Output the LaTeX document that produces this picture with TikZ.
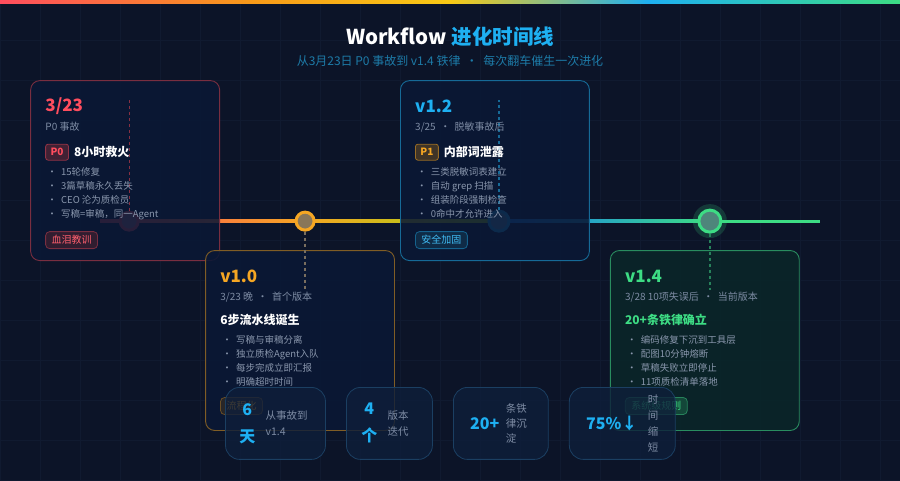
\documentclass[tikz,border=0pt]{standalone}
\usepackage{fontspec}
\setmainfont{Noto Sans CJK SC}
\usepackage{xcolor}
\usetikzlibrary{positioning, calc, shapes.geometric}

\definecolor{bgnavy}{HTML}{0C1428}
\definecolor{gridline}{HTML}{101A30}
\definecolor{cardfill}{HTML}{0A1835}
\definecolor{greenfill}{HTML}{0A2629}
\definecolor{hotred}{HTML}{FF4D5E}
\definecolor{amber}{HTML}{F5A623}
\definecolor{skyblue}{HTML}{1EB0F2}
\definecolor{mint}{HTML}{3DDC84}
\definecolor{mutedgray}{HTML}{7D8BA3}
\definecolor{bulletgray}{HTML}{8A97AD}
\definecolor{subcyan}{HTML}{1D7BA8}
\definecolor{statfill}{HTML}{0E1E3A}
\definecolor{statedge}{HTML}{1B3F62}

\pgfdeclarehorizontalshading{rainbowbar}{100bp}{color(0bp)=(hotred); color(25bp)=(hotred); color(39bp)=(amber!70!orange); color(50bp)=(amber!60!yellow); color(61bp)=(skyblue); color(75bp)=(mint); color(100bp)=(mint)}

\begin{document}
\begin{tikzpicture}[
  x=1pt, y=-1pt,
  card/.style={draw, line width=0.9pt, rounded corners=9pt, minimum width=189pt, minimum height=180pt, anchor=north west, inner sep=0pt, fill opacity=0.88},
  tdot/.style={circle, line width=3pt, minimum size=18pt, inner sep=0pt},
  hd/.style={anchor=west, inner sep=0pt, font=\fontsize{17}{20}\selectfont\bfseries},
  sub/.style={anchor=west, inner sep=0pt, text=mutedgray, font=\fontsize{10}{12}\selectfont},
  ttl/.style={anchor=west, inner sep=0pt, text=white, font=\fontsize{12}{14}\selectfont\bfseries},
  badge/.style={draw, line width=0.8pt, rounded corners=2.5pt, anchor=west, inner xsep=5pt, inner ysep=0pt, minimum height=16pt, font=\fontsize{10}{12}\selectfont\bfseries},
  items/.style={anchor=north west, inner sep=0pt, align=left, text=bulletgray, font=\fontsize{9.5}{14}\selectfont},
  tag/.style={draw, line width=0.8pt, rounded corners=4pt, anchor=west, inner xsep=6pt, inner ysep=0pt, minimum height=17pt, font=\fontsize{10}{12}\selectfont},
  tether/.style={dash pattern=on 3pt off 3pt, line width=1.3pt},
  stat/.style={draw=statedge, line width=0.8pt, fill=statfill, fill opacity=0.8, rounded corners=14pt, minimum height=72pt, anchor=north west},
  num/.style={anchor=west, inner sep=0pt, align=center, text=skyblue, font=\fontsize{16}{27}\selectfont\bfseries},
  note/.style={anchor=west, inner sep=0pt, align=left, text=mutedgray, font=\fontsize{10.5}{16}\selectfont}
]
  % background
  \fill[bgnavy] (0,0) rectangle (900,480);
  \draw[gridline, line width=0.5pt] (0,0) grid[step=40pt] (900,480);
  \useasboundingbox (0,0) rectangle (900,480);
  \shade[shading=rainbowbar] (0,0) rectangle (900,3);

  % title
  \node[font=\fontsize{20.5}{24}\selectfont\bfseries, text=white] (title) at (450,36) {Workflow \textcolor{skyblue}{进化时间线}};
  \node[font=\fontsize{12}{14}\selectfont, text=subcyan] (subtitle) at (450,61) {从3月23日 P0 事故到 v1.4 铁律 \ · \ 每次翻车催生一次进化};

  % timeline
  \coordinate (tlstart) at (100,221);
  \coordinate (p323) at (129,221);
  \coordinate (p10) at (305,221);
  \coordinate (p12) at (499,221);
  \coordinate (p14) at (710,221);
  \coordinate (tlend) at (820,221);
  \shade[left color=hotred, right color=amber] ($(tlstart)+(0,-1.5)$) rectangle ($(p10)+(0,1.5)$);
  \shade[left color=amber, right color=amber!55!green!80!yellow] ($(p10)+(0,-1.5)$) rectangle ($(p12)+(0,1.5)$);
  \shade[left color=skyblue!70!blue, middle color=skyblue, right color=mint] ($(p12)+(0,-1.5)$) rectangle ($(p14)+(0,1.5)$);
  \fill[mint] ($(p14)+(0,-1.5)$) rectangle ($(tlend)+(0,1.5)$);

  \node[tdot, draw=hotred, fill=hotred!40!mutedgray] (d323) at (p323) {};
  \node[tdot, draw=amber, fill=amber!45!mutedgray!75!bgnavy] (d10) at (p10) {};
  \node[tdot, draw=skyblue, fill=skyblue!35!mutedgray, minimum size=20pt] (d12) at (p12) {};
  \fill[mint, opacity=0.18] (p14) circle (17);
  \node[tdot, draw=mint, fill=mint!40!mutedgray!75!bgnavy, minimum size=22pt] (d14) at (p14) {};

  % cards
  \node[card, draw=hotred!45!bgnavy, fill=cardfill] (c323) at (30,80) {};
  \node[card, draw=amber!50!bgnavy, fill=cardfill] (c10) at (205,250) {};
  \node[card, draw=skyblue!55!bgnavy, fill=cardfill] (c12) at (400,80) {};
  \node[card, draw=mint!60!bgnavy, fill=greenfill] (c14) at (610,250) {};

  \coordinate (t323) at (129,100);
  \coordinate (t10) at (305,290);
  \coordinate (t12) at (499,100);
  \coordinate (t14) at (710,290);
  \draw[tether, hotred!50!bgnavy] (d323) -- (t323);
  \draw[tether, amber!35!mutedgray!70!bgnavy] (d10) -- (t10);
  \draw[tether, skyblue!55!bgnavy] (d12) -- (t12);
  \draw[tether, mint!55!bgnavy] (d14) -- (t14);

  % 3/23
  \node[hd, text=hotred] (h323) at ($(c323.north west)+(15,26)$) {3/23};
  \node[sub] (s323) at ($(c323.north west)+(15,47)$) {P0 事故};
  \node[badge, draw=hotred!55!bgnavy, fill=hotred!22!bgnavy, text=hotred] (b323) at ($(c323.north west)+(15,72)$) {P0};
  \node[ttl, right=5pt of b323] (k323) {8小时救火};
  \node[items] (i323) at ($(c323.north west)+(17,87)$) {· \ 15轮修复\\· \ 3篇草稿永久丢失\\· \ CEO 沦为质检员\\· \ 写稿=审稿，同一Agent};
  \node[tag, draw=hotred!45!bgnavy, fill=hotred!15!bgnavy, text=hotred!90!white] (g323) at ($(c323.north west)+(15,160)$) {血泪教训};

  % v1.0
  \node[hd, text=amber] (h10) at ($(c10.north west)+(15,26)$) {v1.0};
  \node[sub] (s10) at ($(c10.north west)+(15,47)$) {3/23 晚 \ · \ 首个版本};
  \node[ttl] (k10) at ($(c10.north west)+(15,70)$) {6步流水线诞生};
  \node[items] (i10) at ($(c10.north west)+(17,85)$) {· \ 写稿与审稿分离\\· \ 独立质检Agent入队\\· \ 每步完成立即汇报\\· \ 明确超时时间};
  \node[tag, draw=amber!40!bgnavy, fill=amber!12!bgnavy, text=amber] (g10) at ($(c10.north west)+(15,156)$) {流程化};

  % v1.2
  \node[hd, text=skyblue] (h12) at ($(c12.north west)+(15,26)$) {v1.2};
  \node[sub] (s12) at ($(c12.north west)+(15,47)$) {3/25 \ · \ 脱敏事故后};
  \node[badge, draw=amber!60!bgnavy, fill=amber!22!bgnavy, text=amber] (b12) at ($(c12.north west)+(15,72)$) {P1};
  \node[ttl, right=5pt of b12] (k12) {内部词泄露};
  \node[items] (i12) at ($(c12.north west)+(17,87)$) {· \ 三类脱敏词表建立\\· \ 自动 grep 扫描\\· \ 组装阶段强制检查\\· \ 0命中才允许进入};
  \node[tag, draw=skyblue!50!bgnavy, fill=skyblue!15!bgnavy, text=skyblue!85!white] (g12) at ($(c12.north west)+(15,160)$) {安全加固};

  % v1.4
  \node[hd, text=mint] (h14) at ($(c14.north west)+(15,26)$) {v1.4};
  \node[sub] (s14) at ($(c14.north west)+(15,47)$) {3/28 10项失误后 \ · \ 当前版本};
  \node[ttl, text=mint] (k14) at ($(c14.north west)+(15,70)$) {20+条铁律确立};
  \node[items] (i14) at ($(c14.north west)+(17,85)$) {· \ 编码修复下沉到工具层\\· \ 配图10分钟熔断\\· \ 草稿失败立即停止\\· \ 11项质检清单落地};
  \node[tag, draw=mint!55!bgnavy, fill=mint!18!greenfill, text=mint] (g14) at ($(c14.north west)+(15,156)$) {系统级规则};

  % stats
  \node[stat, minimum width=100pt] (st1) at (225,387) {};
  \node[num] (n1) at ($(st1.west)+(14,0)$) {6\\天};
  \node[note, right=10pt of n1] (l1) {从事故到\\v1.4};
  \node[stat, minimum width=86pt] (st2) at (346,387) {};
  \node[num] (n2) at ($(st2.west)+(15,0)$) {4\\个};
  \node[note, right=10pt of n2] (l2) {版本\\迭代};
  \node[stat, minimum width=95pt] (st3) at (453,387) {};
  \node[num] (n3) at ($(st3.west)+(17,0)$) {20+};
  \node[note, right=6pt of n3, font=\fontsize{10.5}{15}\selectfont] (l3) {条铁\\律沉\\淀};
  \node[stat, minimum width=106pt] (st4) at (569,387) {};
  \node[num] (n4) at ($(st4.west)+(17,0)$) {75\%↓};
  \node[note, right=10pt of n4] (l4) {时\\间\\缩\\短};
\end{tikzpicture}
\end{document}
